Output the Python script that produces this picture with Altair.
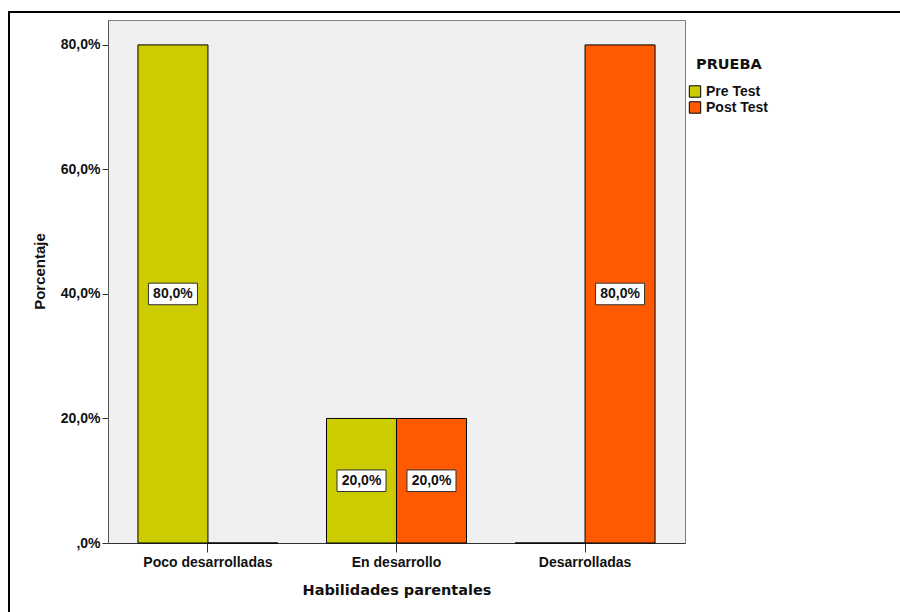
import altair as alt
import pandas as pd

categorias = ["Poco desarrolladas", "En desarrollo", "Desarrolladas"]
pre_test = [80.0, 20.0, 0.0]
post_test = [0.0, 20.0, 80.0]
pruebas = ["Pre Test", "Post Test"]
colores = ["#CCCC00", "#FF5A00"]
y_ticks = [0, 20, 40, 60, 80]

rows = []
for c, a, b in zip(categorias, pre_test, post_test):
    rows.append({"cat": c, "prueba": pruebas[0], "valor": a})
    rows.append({"cat": c, "prueba": pruebas[1], "valor": b})
df = pd.DataFrame(rows)

FONT = "Liberation Sans"
TFONT = "DejaVu Sans"
W, H = 577, 523

x_enc = alt.X(
    "cat:N", sort=categorias,
    scale=alt.Scale(paddingInner=0, paddingOuter=0.03),
    axis=alt.Axis(title="Habilidades parentales", labelAngle=0, labelFont=FONT,
                  labelFontSize=14, labelFontWeight="bold", labelColor="#111",
                  labelPadding=3, tickSize=9, tickColor="#333", domainColor="#333",
                  titleFont=TFONT, titleFontSize=14.5, titleFontWeight="bold",
                  titleColor="#111", titlePadding=14),
)
xoff = alt.XOffset("prueba:N", sort=pruebas,
                   scale=alt.Scale(paddingInner=0, paddingOuter=0.347))
y_scale = alt.Scale(domain=[0, 84], nice=False)
y_axis = alt.Axis(
    title="Porcentaje", values=y_ticks, grid=False,
    labelExpr="datum.value == 0 ? ',0%' : replace(format(datum.value, '.1f'), '.', ',') + '%'",
    labelFont=FONT, labelFontSize=14, labelFontWeight="bold", labelColor="#111",
    labelPadding=2, tickSize=6, tickColor="#333", domainColor="#555",
    titleFont=FONT, titleFontSize=15, titleFontWeight="bold", titleColor="#111",
    titleX=-61, titleY=251,
)

base = alt.Chart(df)

frame = base.mark_rect(fill=None, stroke="black", strokeWidth=2, clip=False).encode(
    x=alt.value(-99), x2=alt.value(900), y=alt.value(-8), y2=alt.value(700)
)

bars = base.mark_bar(stroke="black", strokeWidth=1).encode(
    x=x_enc,
    xOffset=xoff,
    y=alt.Y("valor:Q", scale=y_scale, axis=y_axis),
    color=alt.Color(
        "prueba:N", sort=pruebas,
        scale=alt.Scale(domain=pruebas, range=colores),
        legend=alt.Legend(
            title="PRUEBA", orient="none", legendX=588, legendY=38, padding=0,
            titleFont=TFONT, titleFontSize=14.5, titleFontWeight="bold", titleColor="#111",
            titlePadding=12, labelFont=FONT, labelFontSize=14, labelFontWeight="bold",
            labelColor="#111", labelOffset=4, symbolType="square", symbolSize=130,
            symbolStrokeColor="black", symbolStrokeWidth=1, symbolOpacity=1,
            symbolOffset=-8, rowPadding=0,
        ),
    ),
)

lab = base.transform_filter("datum.valor > 0").transform_calculate(
    mid="datum.valor / 2",
    txt="replace(format(datum.valor, '.1f'), '.', ',') + '%'",
)

boxes = lab.mark_point(
    shape="M-1,-0.44L1,-0.44L1,0.44L-1,0.44Z", size=2401, filled=True,
    fill="white", stroke="#333", strokeWidth=1, opacity=1,
).encode(
    x=alt.X("cat:N", sort=categorias), xOffset=alt.XOffset("prueba:N", sort=pruebas),
    y=alt.Y("mid:Q", scale=y_scale),
)

texts = lab.mark_text(font=FONT, fontSize=14, fontWeight="bold", color="#111",
                      baseline="middle", align="center").encode(
    x=alt.X("cat:N", sort=categorias), xOffset=alt.XOffset("prueba:N", sort=pruebas),
    y=alt.Y("mid:Q", scale=y_scale),
    text="txt:N",
)

chart = alt.layer(frame, bars, boxes, texts).properties(
    width=W, height=H,
    autosize=alt.AutoSizeParams(type="none"),
    padding={"left": 108, "top": 20, "right": 215, "bottom": 69},
    background="white",
).configure_view(fill="#F0F0F0", stroke="#808080", strokeWidth=1)

chart.save("out.html", embed_options={"renderer": "svg", "actions": False})
